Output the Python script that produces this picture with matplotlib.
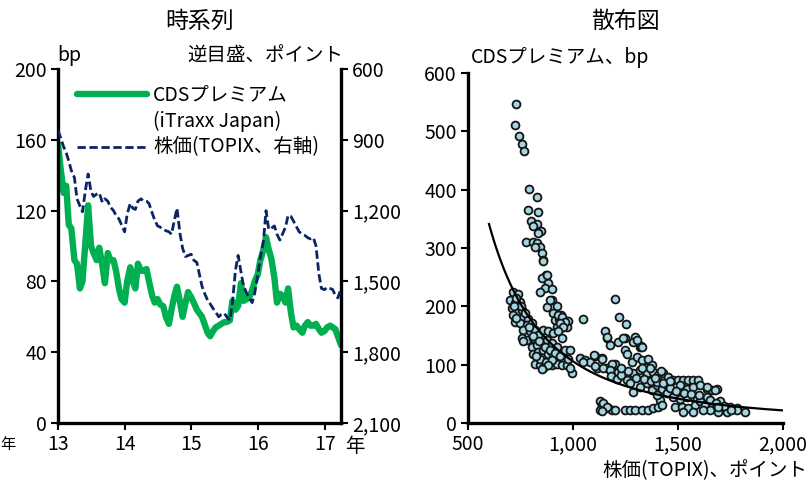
import numpy as np
import pandas as pd
import matplotlib
matplotlib.use("Agg")
import matplotlib.pyplot as plt
from matplotlib.ticker import FixedLocator, FuncFormatter

plt.rcParams['font.family'] = ['Noto Sans CJK JP', 'DejaVu Sans']

# ---- time series (semi-monthly, Jan 2013 - Mar 2017) ----
cds_premium = [
    158, 144, 130, 134, 112, 110, 92, 90, 76, 80, 103, 123, 100, 96, 92, 99,
    89, 79, 96, 92, 92, 86, 76, 70,
    68, 80, 88, 80, 76, 90, 86, 86, 87, 80, 72, 68, 70, 67, 66, 60, 56, 64,
    72, 77, 68, 60, 68, 74,
    71, 68, 64, 62, 60, 56, 51, 49, 52, 54, 55, 56, 57, 57, 58, 69, 64, 66,
    79, 69, 70, 71, 75, 80,
    84, 92, 98, 105, 98, 93, 82, 68, 73, 72, 68, 76, 62, 54, 55, 53, 51, 55,
    57, 55, 55, 56, 53, 51,
    52, 54, 55, 54, 53, 49, 44,
]
topix = [
    860, 890, 930, 955, 990, 1030, 1060, 1150, 1180, 1205, 1110, 1045, 1120,
    1140, 1130, 1125, 1165, 1150, 1160, 1185, 1200, 1220, 1235, 1260,
    1290, 1215, 1170, 1190, 1195, 1160, 1150, 1160, 1160, 1170, 1210, 1240,
    1265, 1270, 1280, 1285, 1290, 1300, 1240, 1190, 1300, 1360, 1395, 1390,
    1385, 1410, 1420, 1470, 1520, 1550, 1580, 1595, 1615, 1630, 1650, 1640,
    1635, 1650, 1665, 1590, 1450, 1390, 1460, 1520, 1550, 1570, 1590, 1550,
    1470, 1400, 1330, 1200, 1280, 1275, 1265, 1300, 1325, 1300, 1270, 1220,
    1225, 1245, 1270, 1290, 1300, 1305, 1315, 1320, 1315, 1350, 1470, 1530,
    1535, 1525, 1530, 1535, 1560, 1570, 1530,
]
dates = pd.date_range('2013-01-01', periods=len(cds_premium), freq='SMS')
year_ticks = pd.to_datetime(['2013-01-01', '2014-01-01', '2015-01-01',
                             '2016-01-01', '2017-01-01'])
year_labels = ['13', '14', '15', '16', '17']

# ---- scatter: TOPIX vs CDS premium ----
scatter_topix = [
    727, 724, 743, 759, 767, 792, 827, 787, 832, 798, 830, 811, 848, 835, 776,
    811, 830, 843, 819, 851, 859, 871, 851, 883, 867, 898, 843, 898, 875, 922,
    941, 906, 914, 935, 957, 978, 925, 951, 970, 859, 875, 890, 930, 946, 962,
    938, 954,
    716, 740, 700, 724, 748, 708, 732, 756, 716, 740, 763, 787, 724, 748, 779,
    803, 763, 795, 819, 756, 779, 811, 835, 859, 883, 906, 930, 946, 803, 827,
    851, 875, 898, 922, 962, 986, 811, 835, 859, 883, 906, 930, 954, 819, 843,
    867, 859, 898, 922, 946, 970, 994, 986,
    730, 752, 770, 790, 808, 840, 865, 890, 915, 940, 975, 845, 870, 900, 825,
    760, 730, 720, 880, 850,
    1033, 1057, 1049, 1081, 1105, 1137, 1113, 1160, 1200, 1152, 1160, 1176,
    1216, 1248, 1295, 1319, 1248, 1200, 1221, 1252, 1351, 1160, 1240, 1287,
    1322, 1256, 1100, 1137, 1049, 1105, 1144, 1184, 1176, 1216, 1279, 1303,
    1327, 1359, 1375, 1287, 1319, 1351, 1383, 1406, 1430, 1454, 1256, 1287,
    1319, 1351, 1375, 1399, 1422, 1446, 1303, 1327, 1367,
    1478, 1502, 1525, 1549, 1573, 1597, 1510, 1541, 1573, 1605, 1637, 1660,
    1684, 1637, 1676, 1414, 1399, 1446, 1478, 1510, 1541, 1589, 1637, 1486,
    1518, 1549, 1581, 1605, 1629, 1660, 1700, 1716, 1748, 1779, 1819, 1732,
    1692, 1652, 1573, 1621, 1525, 1779,
    1129, 1137, 1152, 1129, 1168, 1184, 1200, 1248, 1271, 1295, 1327, 1359,
    1383, 1406, 1422, 1145, 1160, 1140,
    1180, 1210, 1230, 1260, 1300, 1340, 1370, 1400, 1430, 1460, 1230, 1270,
    1330, 1390, 1420, 1460, 1490, 1530, 1560, 1600, 1650, 1680, 1720, 1750,
    1690,
]
scatter_cds = [
    547, 511, 492, 479, 467, 401, 387, 366, 362, 347, 341, 337, 330, 325, 311,
    311, 308, 302, 301, 291, 279, 254, 248, 240, 231, 229, 225, 211, 199, 201,
    185, 188, 177, 178, 177, 175, 165, 164, 165, 277, 254, 211, 185, 182, 174,
    171, 165,
    225, 222, 211, 205, 208, 197, 191, 194, 185, 179, 182, 179, 174, 171, 168,
    171, 159, 157, 159, 145, 142, 145, 151, 159, 157, 154, 157, 145, 131, 134,
    139, 142, 137, 131, 125, 125, 119, 122, 125, 119, 117, 111, 108, 102, 99,
    97, 94, 99, 102, 99, 99, 85, 94,
    215, 200, 188, 165, 150, 140, 130, 125, 120, 115, 110, 110, 105, 108, 115,
    140, 180, 200, 100, 92,
    111, 108, 178, 105, 115, 111, 94, 94, 102, 157, 145, 134,
    139, 145, 148, 131, 125, 212, 182, 170, 108, 148, 145, 139,
    132, 119, 117, 109, 105, 97, 94, 102, 91, 88, 105, 114,
    108, 109, 99, 85, 91, 85, 88, 82, 85, 79, 74, 54,
    62, 68, 57, 65, 59, 65, 142, 131, 94,
    74, 74, 74, 74, 74, 74, 65, 59, 62, 65, 59, 57,
    58, 62, 57, 39, 48, 51, 45, 42, 45, 42, 45, 28,
    28, 25, 31, 37, 31, 28, 37, 25, 28, 25, 19, 19,
    19, 22, 19, 22, 19, 22,
    37, 31, 25, 22, 25, 22, 22, 22, 22, 22, 23, 23,
    25, 28, 31, 35, 28, 20,
    80, 75, 82, 90, 78, 75, 72, 70, 68, 60, 95, 68,
    95, 78, 90, 72, 55, 52, 50, 48, 40, 35, 30, 22,
    28,
]

# power-law fit: CDS = FIT_COEF * TOPIX ** FIT_EXP
FIT_COEF = 8.0e8
FIT_EXP = -2.293
FIT_RANGE = (600, 2000)

GREEN = '#00b050'
NAVY = '#0b2463'
DOT_FACE = '#a3d6e3'

TICK_FS = 14
LABEL_FS = 14
TITLE_FS = 16.5

fig = plt.figure(figsize=(8.11, 4.83), dpi=100)

# ================= left: time series =================
ax1 = fig.add_axes([58 / 811, 1 - 423 / 483, (341 - 58) / 811, (423 - 69) / 483])
ax2 = ax1.twinx()

ax1.plot(dates, cds_premium, color=GREEN, lw=4.6, solid_joinstyle='round',
         solid_capstyle='round', zorder=2)
ax2.plot(dates, topix, color=NAVY, lw=2.0, linestyle=(0, (3, 1.3)), zorder=3)

ax1.set_ylim(0, 200)
ax1.set_yticks([0, 40, 80, 120, 160, 200])
ax2.set_ylim(2100, 600)
ax2.set_yticks([600, 900, 1200, 1500, 1800, 2100])
ax2.yaxis.set_major_formatter(FuncFormatter(lambda v, p: f'{int(v):,}'))
ax1.set_xlim(pd.Timestamp('2013-01-01'), pd.Timestamp('2017-04-01'))
ax1.set_xticks(year_ticks)
ax1.set_xticklabels(year_labels)

for a in (ax1, ax2):
    a.spines['top'].set_visible(False)
    for s in ('left', 'right', 'bottom'):
        a.spines[s].set_linewidth(2.4)
ax1.spines['right'].set_visible(False)
ax2.spines['left'].set_visible(False)
ax2.spines['bottom'].set_visible(False)
ax1.tick_params(axis='both', direction='out', length=5, width=1.5,
                labelsize=TICK_FS, pad=3)
ax2.tick_params(axis='y', direction='out', length=5, width=1.5,
                labelsize=TICK_FS, pad=3)
ax1.set_zorder(ax2.get_zorder() - 1)
ax1.patch.set_visible(True)
ax2.patch.set_visible(False)

# legend drawn in axes coordinates
ax2.plot([0.067, 0.314], [0.928, 0.928], transform=ax2.transAxes,
         color=GREEN, lw=4.6, solid_capstyle='round', clip_on=False)
ax2.plot([0.067, 0.314], [0.78, 0.78], transform=ax2.transAxes,
         color=NAVY, lw=2.0, linestyle=(0, (3, 1.3)), clip_on=False)
ax2.text(0.336, 0.928, 'CDSプレミアム', transform=ax2.transAxes,
         fontsize=LABEL_FS, va='center', ha='left')
ax2.text(0.336, 0.853, '(iTraxx Japan)', transform=ax2.transAxes,
         fontsize=LABEL_FS, va='center', ha='left')
ax2.text(0.336, 0.78, '株価(TOPIX、右軸)', transform=ax2.transAxes,
         fontsize=LABEL_FS, va='center', ha='left')

fig.text(200 / 811, 1 - 21 / 483, '時系列', fontsize=TITLE_FS, ha='center', va='center')
fig.text(57 / 811, 1 - 56 / 483, 'bp', fontsize=LABEL_FS, ha='left', va='center')
fig.text(343 / 811, 1 - 56 / 483, '逆目盛、ポイント', fontsize=LABEL_FS,
         ha='right', va='center')
fig.text(345 / 811, 1 - 446 / 483, '年', fontsize=TICK_FS, ha='left', va='center')
fig.text(0.5 / 811, 1 - 445 / 483, '年', fontsize=TICK_FS - 3, ha='left', va='center')

# ================= right: scatter =================
ax3 = fig.add_axes([468 / 811, 1 - 423 / 483, (783 - 468) / 811, (423 - 73) / 483])
ax3.scatter(scatter_topix, scatter_cds, s=32, facecolor=DOT_FACE,
            edgecolor='#141414', linewidths=1.3, zorder=2, clip_on=False)
fit_x = np.linspace(FIT_RANGE[0], FIT_RANGE[1], 300)
ax3.plot(fit_x, FIT_COEF * fit_x ** FIT_EXP, color='black', lw=1.6, zorder=3)

ax3.set_xlim(500, 2000)
ax3.set_ylim(0, 600)
ax3.xaxis.set_major_locator(FixedLocator([500, 1000, 1500, 2000]))
ax3.xaxis.set_major_formatter(FuncFormatter(lambda v, p: f'{int(v):,}'))
ax3.set_yticks([0, 100, 200, 300, 400, 500, 600])
for s in ('top', 'right'):
    ax3.spines[s].set_visible(False)
for s in ('left', 'bottom'):
    ax3.spines[s].set_linewidth(2.4)
ax3.tick_params(axis='both', direction='out', length=5, width=1.5,
                labelsize=TICK_FS, pad=3)

fig.text(625 / 811, 1 - 21 / 483, '散布図', fontsize=TITLE_FS, ha='center', va='center')
fig.text(471 / 811, 1 - 58 / 483, 'CDSプレミアム、bp', fontsize=LABEL_FS,
         ha='left', va='center')
fig.text(807 / 811, 1 - 471 / 483, '株価(TOPIX)、ポイント', fontsize=LABEL_FS,
         ha='right', va='center')

fig.savefig('out.png', dpi=100)
